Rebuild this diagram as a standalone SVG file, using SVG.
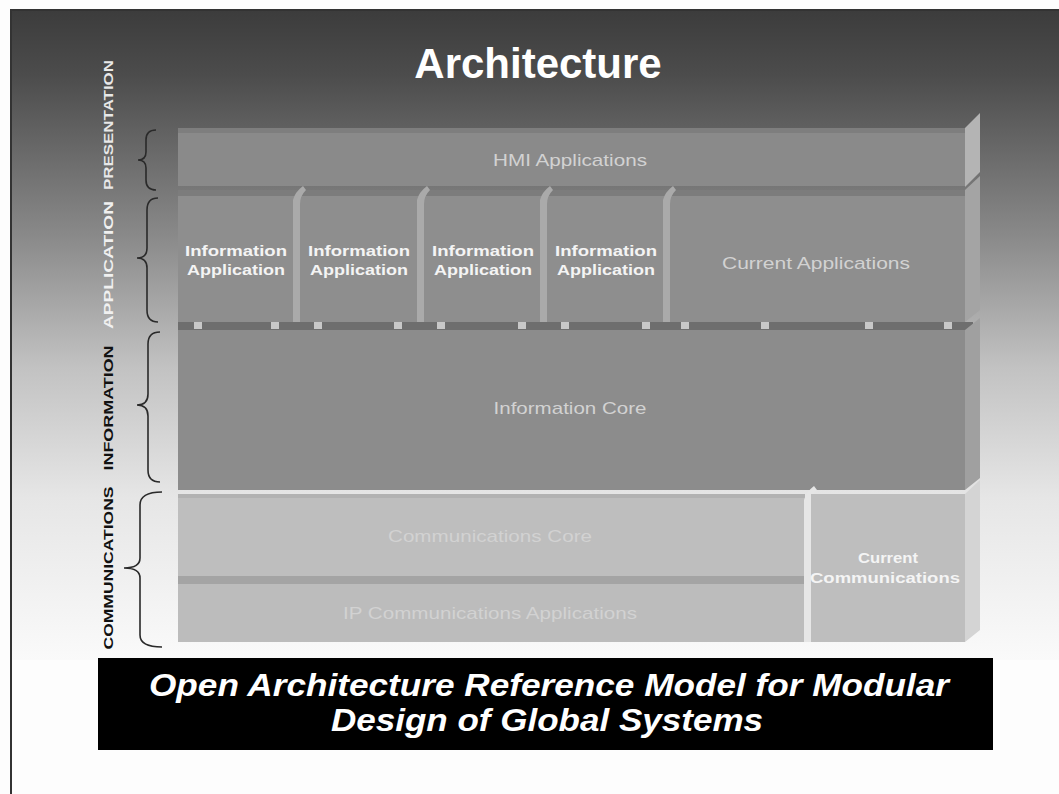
<svg xmlns="http://www.w3.org/2000/svg" width="1059" height="794" viewBox="0 0 1059 794">
<defs>
<linearGradient id="bg" x1="0" y1="0" x2="0" y2="1">
<stop offset="0" stop-color="#3c3c3c"/>
<stop offset="0.1" stop-color="#4c4c4c"/>
<stop offset="0.35" stop-color="#8a8a8a"/>
<stop offset="0.55" stop-color="#c2c2c2"/>
<stop offset="0.75" stop-color="#e6e6e6"/>
<stop offset="1" stop-color="#fafafa"/>
</linearGradient>
<style>
.brace{fill:none;stroke:#2a2a2a;stroke-width:1.6}
.vlab{font-family:"Liberation Sans",Arial,sans-serif;font-weight:bold;font-size:13px;text-anchor:middle}
.big{font-family:"Liberation Sans",Arial,sans-serif;font-size:17px;text-anchor:middle;fill:#d2d2d2}
.ia{font-family:"Liberation Sans",Arial,sans-serif;font-size:14px;font-weight:bold;text-anchor:middle;fill:#f4f4f4}
.side{fill:#b4b4b4}
.sep{fill:#aaaaaa}
.sq{fill:#c8c8c8}
.ban{font-family:"Liberation Sans",Arial,sans-serif;font-size:31px;font-weight:bold;font-style:italic;fill:#fff;text-anchor:middle}
</style>
</defs>
<rect x="0" y="0" width="1059" height="794" fill="#fdfdfd"/>
<rect x="10" y="10" width="1049" height="650" fill="url(#bg)"/>
<line x1="11" y1="10" x2="11" y2="794" stroke="#333" stroke-width="2"/>
<line x1="10" y1="10" x2="1059" y2="10" stroke="#333" stroke-width="2"/>

<text x="538" y="78" font-family="Liberation Sans,Arial,sans-serif" font-size="42" font-weight="bold" fill="#ffffff" text-anchor="middle">Architecture</text>

<g id="labels">
<text class="vlab" fill="#e8e8e8" transform="translate(113,125) rotate(-90)" textLength="130" lengthAdjust="spacingAndGlyphs">PRESENTATION</text>
<text class="vlab" fill="#f0f0f0" transform="translate(113,265) rotate(-90)" textLength="128" lengthAdjust="spacingAndGlyphs">APPLICATION</text>
<text class="vlab" fill="#111" transform="translate(113,408) rotate(-90)" textLength="125" lengthAdjust="spacingAndGlyphs">INFORMATION</text>
<text class="vlab" fill="#111" transform="translate(113,568) rotate(-90)" textLength="163" lengthAdjust="spacingAndGlyphs">COMMUNICATIONS</text>
</g>

<g id="braces">
<path class="brace" d="M156,130 Q146,130 146,140 L146,152 Q146,160 138,160 Q146,160 146,168 L146,180 Q146,190 156,190"/>
<path class="brace" d="M158,198 Q147,198 147,210 L147,248 Q147,258 137,258 Q147,258 147,268 L147,310 Q147,322 158,322"/>
<path class="brace" d="M160,332 Q148,332 148,344 L148,394 Q148,405 137,405 Q148,405 148,416 L148,470 Q148,482 160,482"/>
<path class="brace" d="M162,492 Q140,492 140,505 L140,558 Q140,568 124,568 Q140,568 140,578 L140,635 Q140,647 162,647"/>
</g>

<g id="hmi">
<rect x="178" y="128" width="787" height="58" fill="#8a8a8a"/>
<rect x="178" y="128" width="787" height="5" fill="#7e7e7e"/>
<polygon class="side" points="965,128 980,113 980,172 965,187" fill="#9c9c9c"/>
<text class="big" x="570" y="166" textLength="154" lengthAdjust="spacingAndGlyphs">HMI Applications</text>
</g>

<g id="app-row">
<rect x="178" y="190" width="787" height="132" fill="#8e8e8e"/>
<rect x="178" y="190" width="787" height="6" fill="#7c7c7c"/>
<polygon points="965,190 980,176 980,310 965,322" fill="#a4a4a4"/>
</g>

<g id="infoapp1">
<text class="ia" x="236" y="256" textLength="102" lengthAdjust="spacingAndGlyphs">Information</text>
<text class="ia" x="236" y="275" textLength="98" lengthAdjust="spacingAndGlyphs">Application</text>
</g>
<g id="sep1"><path class="sep" d="M293,322 L293,200 Q295,192 303,186 L306,190 Q300,196 300,204 L300,322 Z"/></g>
<g id="infoapp2">
<text class="ia" x="359" y="256" textLength="102" lengthAdjust="spacingAndGlyphs">Information</text>
<text class="ia" x="359" y="275" textLength="98" lengthAdjust="spacingAndGlyphs">Application</text>
</g>
<g id="sep2"><path class="sep" d="M417,322 L417,200 Q419,192 427,186 L430,190 Q424,196 424,204 L424,322 Z"/></g>
<g id="infoapp3">
<text class="ia" x="483" y="256" textLength="102" lengthAdjust="spacingAndGlyphs">Information</text>
<text class="ia" x="483" y="275" textLength="98" lengthAdjust="spacingAndGlyphs">Application</text>
</g>
<g id="sep3"><path class="sep" d="M540,322 L540,200 Q542,192 550,186 L553,190 Q547,196 547,204 L547,322 Z"/></g>
<g id="infoapp4">
<text class="ia" x="606" y="256" textLength="102" lengthAdjust="spacingAndGlyphs">Information</text>
<text class="ia" x="606" y="275" textLength="98" lengthAdjust="spacingAndGlyphs">Application</text>
</g>
<g id="sep4"><path class="sep" d="M663,322 L663,200 Q665,192 673,186 L676,190 Q670,196 670,204 L670,322 Z"/></g>
<g id="current-apps">
<text class="big" x="816" y="269" textLength="188" lengthAdjust="spacingAndGlyphs">Current Applications</text>
</g>

<g id="connectors">
<rect x="178" y="322" width="795" height="8" fill="#6e6e6e"/>
<rect class="sq" x="194" y="322" width="8" height="7"/>
<rect class="sq" x="271" y="322" width="8" height="7"/>
<rect class="sq" x="314" y="322" width="8" height="7"/>
<rect class="sq" x="394" y="322" width="8" height="7"/>
<rect class="sq" x="437" y="322" width="8" height="7"/>
<rect class="sq" x="518" y="322" width="8" height="7"/>
<rect class="sq" x="561" y="322" width="8" height="7"/>
<rect class="sq" x="642" y="322" width="8" height="7"/>
<rect class="sq" x="681" y="322" width="8" height="7"/>
<rect class="sq" x="761" y="322" width="8" height="7"/>
<rect class="sq" x="865" y="322" width="8" height="7"/>
<rect class="sq" x="944" y="322" width="8" height="7"/>
</g>

<g id="info-core">
<rect x="178" y="330" width="787" height="160" fill="#8c8c8c"/>
<polygon points="965,330 980,318 980,478 965,490" fill="#a0a0a0"/>
<text class="big" x="570" y="414" textLength="153" lengthAdjust="spacingAndGlyphs">Information Core</text>
</g>

<g id="comm-core">
<rect x="178" y="494" width="627" height="82" fill="#bebebe"/>
<rect x="178" y="494" width="627" height="4" fill="#b2b2b2"/>
<text class="big" x="490" y="542" fill="#dcdcdc" textLength="204" lengthAdjust="spacingAndGlyphs">Communications Core</text>
</g>
<rect x="178" y="576" width="627" height="8" fill="#a4a4a4"/>
<g id="ip-comm">
<rect x="178" y="584" width="627" height="58" fill="#bcbcbc"/>
<text class="big" x="490" y="619" fill="#dcdcdc" textLength="294" lengthAdjust="spacingAndGlyphs">IP Communications Applications</text>
</g>
<g id="current-comm">
<path d="M804,642 L804,500 Q806,492 814,486 L817,490 Q811,496 811,504 L811,642 Z" fill="#e6e6e6"/>
<rect x="811" y="494" width="154" height="148" fill="#bebebe"/>
<polygon points="965,494 980,480 980,630 965,642" fill="#d4d4d4"/>
<text class="ia" x="888" y="563" font-size="13" textLength="60" lengthAdjust="spacingAndGlyphs">Current</text>
<text class="ia" x="885" y="583" font-size="13" textLength="150" lengthAdjust="spacingAndGlyphs">Communications</text>
</g>

<g id="banner">
<rect x="98" y="658" width="895" height="92" fill="#000"/>
<text class="ban" x="549" y="696" textLength="800" lengthAdjust="spacingAndGlyphs">Open Architecture Reference Model for Modular</text>
<text class="ban" x="547" y="731" textLength="432" lengthAdjust="spacingAndGlyphs">Design of Global Systems</text>
</g>
</svg>
